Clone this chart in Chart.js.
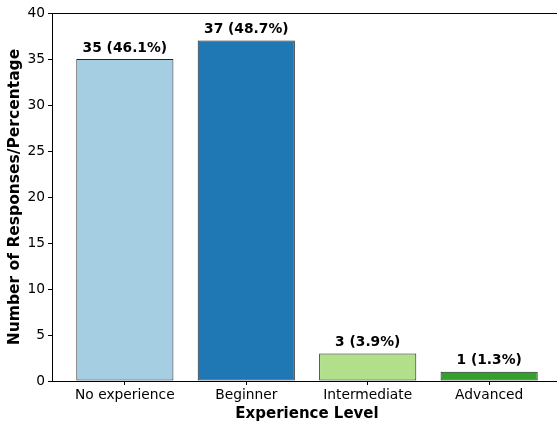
<!DOCTYPE html>
<html>
<head>
<meta charset="utf-8">
<script src="https://cdn.jsdelivr.net/npm/chart.js@4"></script>
<style>
  html, body { margin: 0; padding: 0; background: #fff; overflow: hidden; }
  #wrap { width: 557px; height: 423px; overflow: hidden; }
</style>
</head>
<body>
<div id="wrap"><canvas id="expChart" width="566" height="423"></canvas></div>
<script>
// data
const levels = ["No experience", "Beginner", "Intermediate", "Advanced"];
const responses = [35, 37, 3, 1];
const percents = ["46.1%", "48.7%", "3.9%", "1.3%"];
const barColors = ["#a6cee3", "#1f78b4", "#b2df8a", "#33a02c"];
const yTicks = [0, 5, 10, 15, 20, 25, 30, 35, 40];

const font = "'DejaVu Sans', sans-serif";

// frame around the plot + value labels above bars
const framePlugin = {
  id: "frame",
  afterDatasetsDraw(chart) {
    const ctx = chart.ctx;
    const a = chart.chartArea;
    ctx.save();
    ctx.strokeStyle = "#000";
    ctx.lineWidth = 1;
    ctx.strokeRect(a.left + 0.5, a.top + 0.5, a.right - a.left, a.bottom - a.top);

    const meta = chart.getDatasetMeta(0);
    ctx.fillStyle = "#000";
    ctx.font = "bold 13.8px " + font;
    ctx.textAlign = "center";
    ctx.textBaseline = "bottom";
    meta.data.forEach((bar, i) => {
      ctx.fillText(responses[i] + " (" + percents[i] + ")", bar.x, bar.y - 4);
    });
    ctx.restore();
  }
};

new Chart(document.getElementById("expChart"), {
  type: "bar",
  data: {
    datasets: [
      {
        data: responses.map((v, i) => ({ x: i, y: v })),
        backgroundColor: barColors,
        borderColor: "#222",
        borderWidth: 1,
        borderSkipped: false,
        barPercentage: 0.8,
        categoryPercentage: 1,
      },
    ],
  },
  options: {
    responsive: false,
    animation: false,
    layout: { padding: { top: 13, right: 4, left: 0, bottom: 0 } },
    plugins: { legend: { display: false }, tooltip: { enabled: false } },
    scales: {
      x: {
        type: "linear",
        min: -0.6,
        max: 3.6,
        offset: false,
        afterBuildTicks: (scale) => {
          scale.ticks = levels.map((_, i) => ({ value: i }));
        },
        afterFit: (scale) => { scale.height = 42; },
        ticks: {
          callback: (v) => levels[v],
          color: "#000",
          font: { family: font, size: 13.8 },
          padding: 2,
          maxRotation: 0,
          autoSkip: false,
        },
        grid: { offset: false, drawOnChartArea: false, drawTicks: true, tickLength: 4, color: "#000" },
        border: { display: true, color: "#000" },
        title: {
          display: true,
          text: "Experience Level",
          color: "#000",
          font: { family: font, size: 15, weight: "bold" },
          padding: { top: 0, bottom: 0 },
        },
      },
      y: {
        min: 0,
        max: 40,
        afterBuildTicks: (scale) => {
          scale.ticks = yTicks.map((v) => ({ value: v }));
        },
        afterFit: (scale) => { scale.width = 52; },
        ticks: {
          color: "#000",
          font: { family: font, size: 13.8 },
          padding: 3,
        },
        grid: { drawOnChartArea: false, drawTicks: true, tickLength: 4, color: "#000" },
        border: { display: true, color: "#000" },
        title: {
          display: true,
          text: "Number of Responses/Percentage",
          color: "#000",
          font: { family: font, size: 15.5, weight: "bold" },
          padding: { top: 6, bottom: 0 },
        },
      },
    },
  },
  plugins: [framePlugin],
});
</script>
</body>
</html>
